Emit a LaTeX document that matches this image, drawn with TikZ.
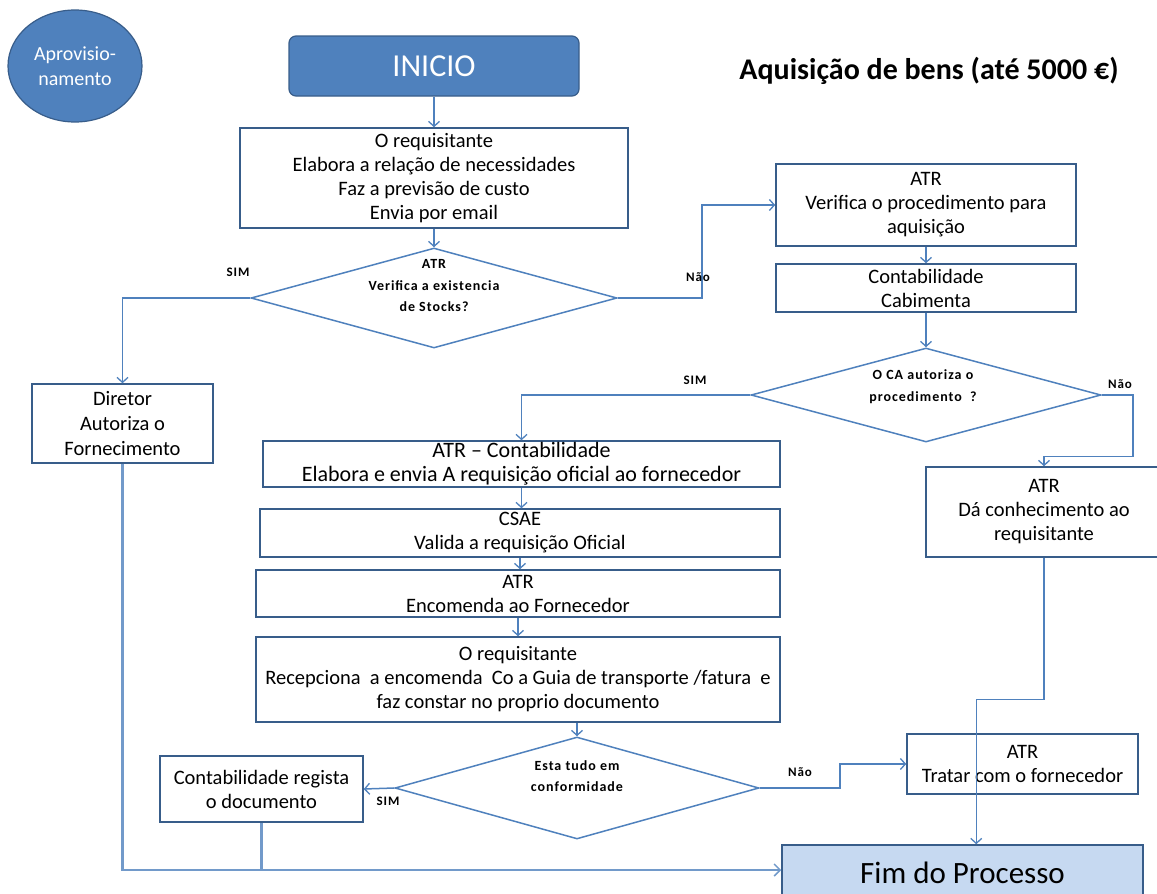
\documentclass[tikz,border=0pt]{standalone}
\usepackage{fontspec}
\setmainfont{Carlito}
\usetikzlibrary{arrows.meta,shapes.geometric,calc}

\definecolor{edgeblue}{RGB}{56,93,138}
\definecolor{lineblue}{RGB}{79,129,189}
\definecolor{fillblue}{RGB}{79,129,189}
\definecolor{paleblue}{RGB}{198,217,241}

\newcommand{\spaced}{\addfontfeatures{LetterSpace=7}}

\tikzset{
  procbox/.style={draw=edgeblue, line width=1.5pt, fill=white, align=center,
    inner sep=0pt, font=\fontsize{20.5}{24}\selectfont},
  decision/.style={diamond, draw=lineblue, line width=1.5pt, fill=white,
    inner sep=0pt},
  dtext/.style={align=center, font=\fontsize{14}{21.5}\selectfont\bfseries\spaced},
  flowlabel/.style={font=\fontsize{13}{15}\selectfont\bfseries\spaced, inner sep=0pt},
  arr/.style={draw=lineblue, line width=1.5pt,
    -{Straight Barb[length=5pt,width=11pt,line width=1.3pt]}},
  thickline/.style={draw=lineblue!80, line width=2.6pt},
}

\begin{document}
\begin{tikzpicture}[x=1pt,y=-1pt]
\useasboundingbox (0,0) rectangle (1157,894);

% header
\node[ellipse, draw=edgeblue, line width=1.2pt, fill=fillblue, text=white,
  minimum width=134, minimum height=112, inner sep=0pt, align=center,
  font=\fontsize{20}{25}\selectfont] (aprov) at (75,66) {Aprovisio-\\namento};
\node[draw=edgeblue, line width=1.2pt, fill=fillblue, rounded corners=7pt,
  minimum width=290, minimum height=60, text=white,
  font=\fontsize{32}{36}\selectfont] (inicio) at (434,66) {INICIO};
\node[font=\bfseries\fontsize{30}{34}\selectfont] (title) at (929,71)
  {Aquisição de bens (até 5000 €)};

% requisition and stock check
\node[procbox, minimum width=388, minimum height=100] (req) at (434,178)
  {O requisitante\\Elabora a relação de necessidades\\Faz a previsão de custo\\Envia por email};
\node[decision, minimum width=366, minimum height=100] (dstock) at (434,298) {};
\node[dtext] (dstockt) at (434,286) {ATR\\Verifica a existencia\\de Stocks?};
\node[procbox, minimum width=181, minimum height=79, font=\fontsize{20.5}{25}\selectfont]
  (diretor) at (122.5,423.5) {Diretor\\Autoriza o\\Fornecimento};

% procedure branch
\node[procbox, minimum width=300, minimum height=82] (verif) at (926,205)
  {ATR\\Verifica o procedimento para\\aquisição};
\node[procbox, minimum width=300, minimum height=48] (cabim) at (926,288)
  {Contabilidade\\Cabimenta};
\node[decision, minimum width=350, minimum height=94] (dca) at (926,395) {};
\node[dtext] (dcat) at (923,386.5) {O CA autoriza o\\procedimento~~?};
\node[procbox, minimum width=236, minimum height=90] (conhec) at (1044,512)
  {ATR\\Dá conhecimento ao\\requisitante};

% order sequence
\node[procbox, minimum width=517, minimum height=46,
  font=\fontsize{22}{24}\selectfont] (oficial) at (521.5,464)
  {ATR – Contabilidade\\Elabora e envia A requisição oficial ao fornecedor};
\node[procbox, minimum width=520, minimum height=48] (csae) at (520,533)
  {CSAE\\Valida a requisição Oficial};
\node[procbox, minimum width=524, minimum height=47] (encom) at (518,593.5)
  {ATR\\Encomenda ao Fornecedor};
\node[procbox, minimum width=524, minimum height=85] (recep) at (518,679.5)
  {O requisitante\\Recepciona~ a encomenda~ Co a Guia de transporte /fatura~ e\\faz constar no proprio documento};
\node[decision, minimum width=364, minimum height=102] (dconf) at (577,788) {};
\node[dtext] (dconft) at (577,776) {Esta tudo em\\conformidade};
\node[procbox, minimum width=203, minimum height=66] (regista) at (261.5,789)
  {Contabilidade regista\\o documento};
\node[procbox, minimum width=231, minimum height=60] (tratar) at (1022.5,764)
  {ATR\\Tratar com o fornecedor};
\node[draw=edgeblue, line width=1.5pt, fill=paleblue, minimum width=361,
  minimum height=56, font=\fontsize{31}{34}\selectfont] (fim) at (962.5,873)
  {Fim do Processo};
\coordinate (fimin) at ($(fim.north west)+(195,0)$);

% connectors
\draw[arr] (inicio.south) -- (inicio.south |- req.north);
\draw[arr] (req.south) -- (req.south |- dstock.north);
\draw[arr] (dstock.west) -| (diretor.north);
\draw[arr] (dstock.east) -- ++(84,0) |- (verif.west);
\draw[arr] (verif.south) -- (cabim.north);
\draw[arr] (cabim.south) -- (dca.north);
\draw[arr] (dca.west) -| (oficial.north);
\draw[arr] (dca.east) -- ++(31,0) |- ($(conhec.north)+(0,-10)$) -- (conhec.north);
\draw[arr] (oficial.south) -- (oficial.south |- csae.north);
\draw[arr] (csae.south) -- (csae.south |- encom.north);
\draw[arr] (encom.south) -- (encom.south |- recep.north);
\draw[arr] (dconf.north |- recep.south) -- (dconf.north);
\draw[arr] (dconf.west) -- (regista.east);
\draw[arr] (dconf.east) -- ++(80,0) |- (tratar.west);
\draw[arr] (conhec.south) |- ($(fimin)+(0,-145)$) -- (fimin);
\draw[thickline] (regista.south) -- (regista.south |- 0,870);
\draw[thickline, -{Straight Barb[length=6pt,width=12pt,line width=1.5pt]}]
  (diretor.south) |- (fim.west |- 0,870);

% branch labels
\node[flowlabel] (l1) at (238,272) {SIM};
\node[flowlabel] (l2) at (698,277) {Não};
\node[flowlabel] (l3) at (695,380) {SIM};
\node[flowlabel] (l4) at (1120,384) {Não};
\node[flowlabel] (l5) at (388,801) {SIM};
\node[flowlabel] (l6) at (800,772) {Não};
\end{tikzpicture}
\end{document}
